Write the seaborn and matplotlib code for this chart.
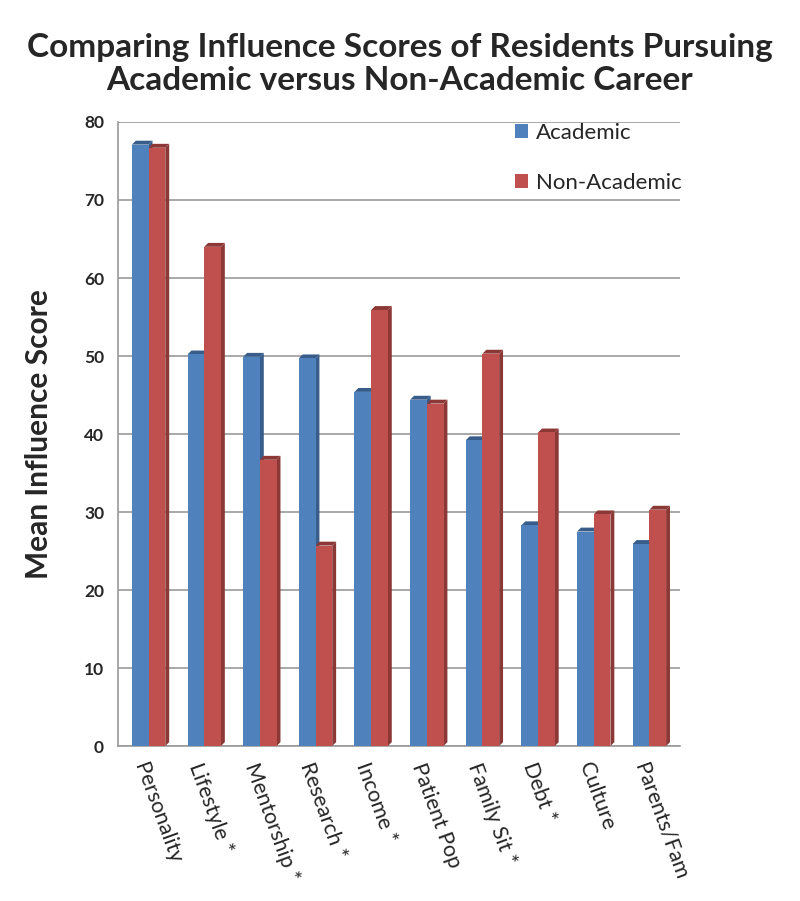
import numpy as np
import pandas as pd
import seaborn as sns
import matplotlib.pyplot as plt
from matplotlib.patches import Polygon

# values
factors = ['Personality', 'Lifestyle *', 'Mentorship *', 'Research *', 'Income *',
           'Patient Pop', 'Family Sit *', 'Debt *', 'Culture', 'Parents/Fam']
academic = [77.1, 50.2, 49.9, 49.7, 45.4, 44.4, 39.2, 28.3, 27.5, 25.9]
non_academic = [76.7, 64.0, 36.7, 25.7, 55.9, 43.9, 50.3, 40.2, 29.7, 30.3]
groups = ['Academic', 'Non-Academic']
colors = ['#4F81BD', '#C0504D']
side_colors = ['#385D8A', '#8C3836']

df = pd.DataFrame({
    'factor': factors * 2,
    'score': academic + non_academic,
    'group': [groups[0]] * len(factors) + [groups[1]] * len(factors),
})

sns.set_style('white')
plt.rcParams['font.family'] = ['Lato', 'DejaVu Sans']

fig = plt.figure(figsize=(8, 9.01), dpi=100)
ax = fig.add_axes([0.1475, 0.172, 0.7025, 0.6926])

sns.barplot(data=df, x='factor', y='score', hue='group', palette=colors,
            width=0.6, saturation=1, linewidth=0, ax=ax, zorder=3)

# fake 3D: side and top faces from the bar geometry
dx, dy = 0.07, 0.5
for cont, side in zip(ax.containers, side_colors):
    for bar in cont:
        x0 = bar.get_x()
        x1 = x0 + bar.get_width()
        h = bar.get_height()
        ax.add_patch(Polygon([(x1, 0), (x1 + dx, dy), (x1 + dx, h + dy), (x1, h)],
                             closed=True, facecolor=side, edgecolor='none', zorder=2.9))
        ax.add_patch(Polygon([(x0, h), (x0 + dx, h + dy), (x1 + dx, h + dy), (x1, h)],
                             closed=True, facecolor=side, edgecolor='none', zorder=2.9))

ax.set_ylim(0, 80)
ax.set_xlim(-0.55, len(factors) - 0.45)
ax.set_yticks(range(0, 81, 10))
ax.yaxis.grid(True, color='#9A9A9A', linewidth=1.2, zorder=0)
ax.set_axisbelow(True)
for s in ['top', 'right']:
    ax.spines[s].set_visible(False)
for s in ['left', 'bottom']:
    ax.spines[s].set_color('#9A9A9A')
    ax.spines[s].set_linewidth(1.2)

ax.tick_params(axis='y', labelsize=12.5, pad=10, length=0)
for lbl in ax.get_yticklabels():
    lbl.set_fontweight('bold')
ax.tick_params(axis='x', length=0, pad=10)
ax.set_xticks(range(len(factors)))
ax.set_xticklabels(factors, rotation=-70, ha='left', va='top',
                   rotation_mode='anchor', fontsize=15.5)

ax.set_xlabel('')
ax.set_ylabel('Mean Influence Score', fontsize=21.5, fontweight='bold', labelpad=22)

leg = ax.legend(loc='upper left', bbox_to_anchor=(0.67, 1.03), frameon=False,
                fontsize=16, handlelength=0.6, handleheight=0.6,
                handletextpad=0.35, labelspacing=1.35)

fig.suptitle('Comparing Influence Scores of Residents Pursuing\nAcademic versus Non-Academic Career',
             fontsize=24, fontweight='bold', y=0.963, linespacing=1.15)

fig.savefig('out.png', dpi=100)
